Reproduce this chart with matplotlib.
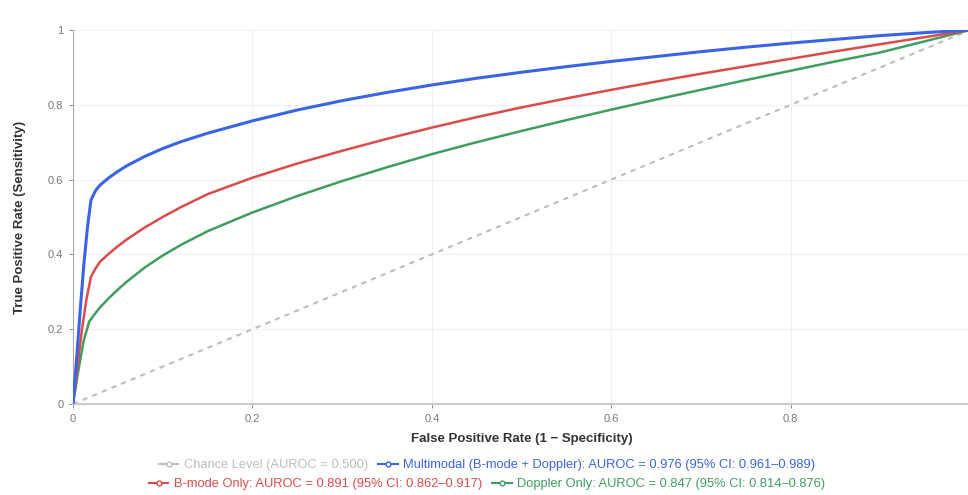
import matplotlib
matplotlib.use("Agg")
import matplotlib.pyplot as plt
from matplotlib.lines import Line2D

plt.rcParams['font.family'] = ['Liberation Sans', 'DejaVu Sans']

# ROC operating points (false positive rate, true positive rate)
multimodal_fpr = [0, 0.004, 0.008, 0.012, 0.016, 0.02, 0.025, 0.03, 0.04, 0.05,
                  0.06, 0.08, 0.1, 0.12, 0.15, 0.2, 0.25, 0.3, 0.35, 0.4,
                  0.45, 0.5, 0.55, 0.6, 0.65, 0.7, 0.75, 0.8, 0.85, 0.9,
                  0.95, 1.0]
multimodal_tpr = [0, 0.12, 0.25, 0.37, 0.47, 0.545, 0.57, 0.585, 0.605, 0.622,
                  0.637, 0.662, 0.683, 0.701, 0.724, 0.757, 0.786, 0.811, 0.833, 0.853,
                  0.871, 0.887, 0.902, 0.916, 0.929, 0.942, 0.954, 0.965, 0.975, 0.985,
                  0.993, 1.0]

bmode_fpr = [0, 0.005, 0.01, 0.015, 0.02, 0.025, 0.03, 0.04, 0.05, 0.06,
             0.08, 0.1, 0.12, 0.15, 0.2, 0.25, 0.3, 0.35, 0.4, 0.45,
             0.5, 0.55, 0.6, 0.65, 0.7, 0.75, 0.8, 0.85, 0.9, 0.95, 1.0]
bmode_tpr = [0, 0.1, 0.2, 0.28, 0.34, 0.362, 0.38, 0.402, 0.422, 0.44,
             0.472, 0.5, 0.526, 0.561, 0.605, 0.643, 0.677, 0.709, 0.739, 0.767,
             0.793, 0.817, 0.84, 0.862, 0.883, 0.903, 0.923, 0.943, 0.962, 0.981, 1.0]

doppler_fpr = [0, 0.006, 0.012, 0.018, 0.025, 0.03, 0.04, 0.05, 0.06, 0.08,
               0.1, 0.12, 0.15, 0.2, 0.25, 0.3, 0.35, 0.4, 0.45, 0.5,
               0.55, 0.6, 0.65, 0.7, 0.75, 0.8, 0.85, 0.9, 0.95, 1.0]
doppler_tpr = [0, 0.09, 0.17, 0.22, 0.243, 0.258, 0.283, 0.306, 0.327, 0.365,
               0.397, 0.425, 0.462, 0.512, 0.556, 0.596, 0.633, 0.668, 0.7, 0.73,
               0.759, 0.787, 0.814, 0.84, 0.866, 0.891, 0.916, 0.94, 0.97, 1.0]

chance_fpr = [0, 1]
chance_tpr = [0, 1]

labels = {
    "chance": "Chance Level (AUROC = 0.500)",
    "multi": "Multimodal (B-mode + Doppler): AUROC = 0.976 (95% CI: 0.961\u20130.989)",
    "bmode": "B-mode Only: AUROC = 0.891 (95% CI: 0.862\u20130.917)",
    "doppler": "Doppler Only: AUROC = 0.847 (95% CI: 0.814\u20130.876)",
}
colors = {
    "chance": "#bdbdbd",
    "multi": "#3a64e6",
    "bmode": "#dd4a4a",
    "doppler": "#3f9e5e",
}

fig = plt.figure(figsize=(9.68, 4.95), dpi=100)
ax = fig.add_axes([73 / 968, 1 - 404 / 495, 897 / 968, 374 / 495])

ax.plot(chance_fpr, chance_tpr, color=colors["chance"], lw=1.5,
        dashes=(2.5, 2.5), zorder=2)
ax.plot(doppler_fpr, doppler_tpr, color=colors["doppler"], lw=1.8, zorder=3,
        solid_joinstyle="round")
ax.plot(bmode_fpr, bmode_tpr, color=colors["bmode"], lw=1.8, zorder=4,
        solid_joinstyle="round")
ax.plot(multimodal_fpr, multimodal_tpr, color=colors["multi"], lw=2.2, zorder=5,
        solid_joinstyle="round")

ax.set_xlim(0, 1)
ax.set_ylim(0, 1)
xticks = [0, 0.2, 0.4, 0.6, 0.8]
yticks = [0, 0.2, 0.4, 0.6, 0.8, 1]
ax.set_xticks(xticks)
ax.set_xticklabels(["0", "0.2", "0.4", "0.6", "0.8"])
ax.set_yticks(yticks)
ax.set_yticklabels(["0", "0.2", "0.4", "0.6", "0.8", "1"])
ax.tick_params(axis='both', labelsize=8, colors="#777777", length=3,
               width=0.6, pad=4)
ax.grid(True, color="#f0f0f0", lw=0.8, zorder=0)

for side in ("top", "right"):
    ax.spines[side].set_visible(False)
ax.spines["left"].set_color("#aaaaaa")
ax.spines["left"].set_linewidth(0.8)
ax.spines["bottom"].set_color("#cccccc")
ax.spines["bottom"].set_linewidth(1.6)

ax.set_xlabel("False Positive Rate (1 \u2212 Specificity)", fontsize=9.5,
              fontweight="bold", color="#333333", labelpad=7)
ax.set_ylabel("True Positive Rate (Sensitivity)", fontsize=9.5,
              fontweight="bold", color="#333333", labelpad=16)


def handle(key):
    return Line2D([], [], color=colors[key], lw=1.5, marker="o",
                  markersize=3.5, markerfacecolor="white",
                  markeredgecolor=colors[key], markeredgewidth=1.0)


legend_rows = [(["chance", "multi"], 0.060), (["bmode", "doppler"], 0.022)]
for keys, ypos in legend_rows:
    leg = fig.legend([handle(k) for k in keys], [labels[k] for k in keys],
                     loc="center", bbox_to_anchor=(0.503, ypos), ncol=len(keys),
                     frameon=False, fontsize=9.3, handlelength=1.5,
                     handletextpad=0.4, columnspacing=0.8, borderpad=0.1)
    for txt, k in zip(leg.get_texts(), keys):
        txt.set_color(colors[k])

fig.savefig("out.png", dpi=100)
